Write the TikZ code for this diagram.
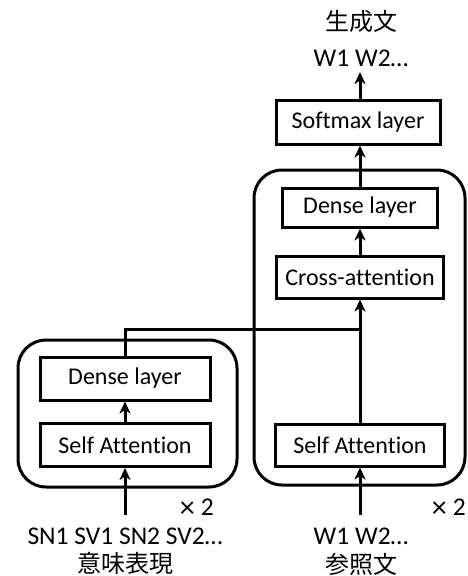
\documentclass[tikz,border=0pt]{standalone}
\usepackage{fontspec}
\setmainfont[Ligatures=NoCommon]{Carlito}
\newfontfamily\jp{Noto Sans CJK JP}
\usetikzlibrary{arrows.meta}
\newcommand{\timestwo}{\raisebox{-2.5pt}{\fontsize{30}{28}\selectfont×}\hspace{6pt}2}
\begin{document}
\begin{tikzpicture}[x=1pt,y=-1pt,
  layer/.style={draw,line width=3pt,minimum height=43pt,inner sep=0pt,font=\fontsize{24}{28}\selectfont},
  outer/.style={draw,line width=3pt,rounded corners=28pt},
  lbl/.style={inner sep=0pt,font=\fontsize{25.5}{28}\selectfont},
  jlbl/.style={inner sep=0pt,font=\fontsize{24}{26}\selectfont\jp},
  arr/.style={line width=3pt,-{Stealth[length=12pt,width=11pt,inset=3.5pt]}},
  ln/.style={line width=3pt}]
\useasboundingbox (0,0) rectangle (467,576);
% outer boxes
\draw[outer] (18,340) rectangle (237,487);
\draw[outer] (254,170) rectangle (465,485);
% left encoder
\node[layer,minimum width=170pt] (ld) at (125,378.5) {Dense layer};
\node[layer,minimum width=170pt] (lsa) at (125,445) {Self Attention};
% right decoder
\node[layer,minimum width=164pt,minimum height=44pt] (sm) at (358,122) {Softmax layer};
\node[layer,minimum width=155pt,minimum height=39pt] (rd) at (360,207.5) {Dense layer};
\node[layer,minimum width=167pt,minimum height=42pt] (ca) at (360,277) {Cross-attention};
\node[layer,minimum width=169pt,minimum height=42pt] (rsa) at (360,445) {Self Attention};
% texts
\node[jlbl] (gen) at (361,21) {生成文};
\node[lbl] (genw) at (361,58) {W1 W2…};
\node[lbl] (in1) at (125,536) {SN1 SV1 SN2 SV2…};
\node[jlbl] (in1j) at (125,563.5) {意味表現};
\node[lbl] (in2) at (361,536) {W1 W2…};
\node[jlbl] (in2j) at (361,564) {参照文};
\node[lbl,anchor=east] (x1) at (214,508) {\timestwo};
\node[lbl,anchor=east] (x2) at (466,508) {\timestwo};
% coordinates
\coordinate (s1) at (125,515);
\coordinate (s2) at (360,515);
\coordinate (out) at (360,72);
\coordinate (join) at (360,329);
% connectors
\draw[arr] (s1) -- (lsa.south);
\draw[arr] (lsa.north) -- (ld.south);
\draw[ln] (ld.north) |- (join);
\draw[arr] (s2) -- (rsa.south);
\draw[arr] (rsa.north) -- (ca.south);
\draw[arr] (ca.north) -- (rd.south);
\draw[arr] (rd.north) -- (sm.south -| rd.north);
\draw[arr] (sm.north -| out) -- (out);
\end{tikzpicture}
\end{document}
